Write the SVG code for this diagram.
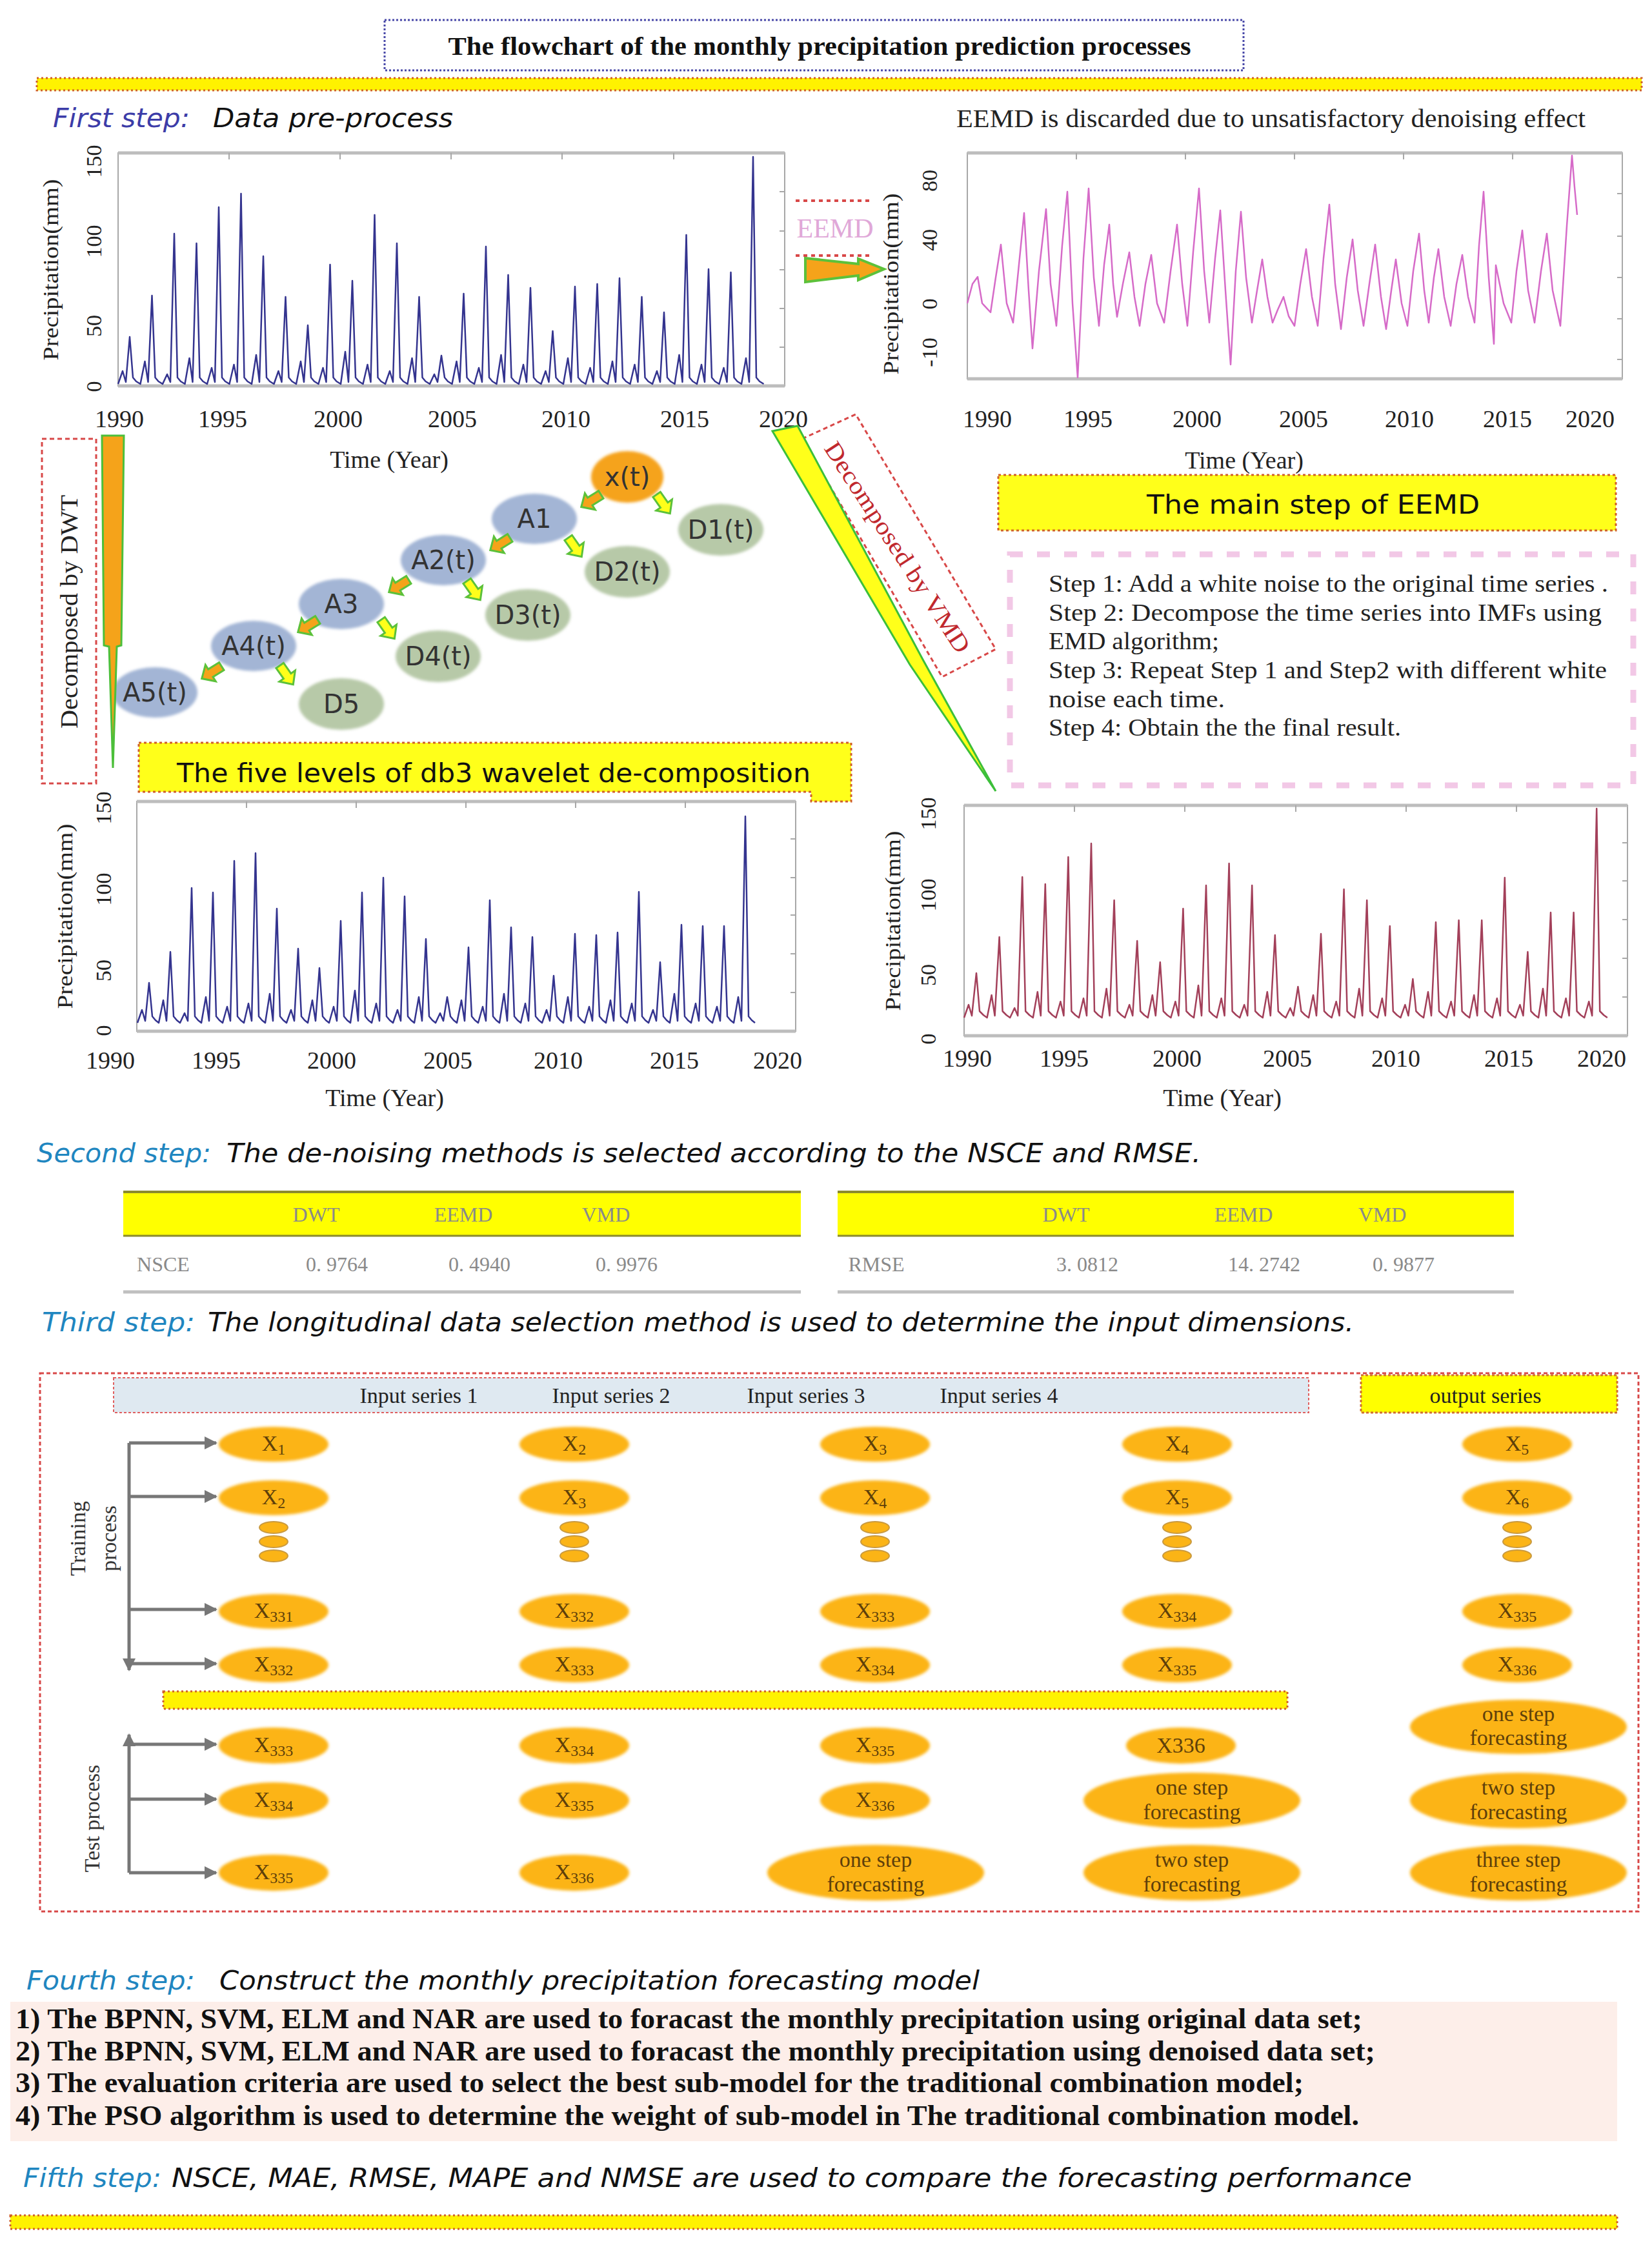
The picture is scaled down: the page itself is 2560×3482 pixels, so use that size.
<svg xmlns="http://www.w3.org/2000/svg" xmlns:xlink="http://www.w3.org/1999/xlink" width="2560" height="3482" viewBox="0 0 2560 3482">
<style>
.serif{font-family:"Liberation Serif","Times New Roman",serif}
.hand{font-family:"DejaVu Sans","Noto Sans",sans-serif}
.hd{font-family:"DejaVu Sans","Noto Sans",sans-serif;font-style:italic;font-size:40px;fill:#111}
.ax{font-family:"Liberation Serif",serif;font-size:38px;fill:#222}
.yt{font-family:"Liberation Serif",serif;font-size:34px;fill:#222}
.frame{fill:none;stroke:#a8a8a8;stroke-width:2}
.fedge{stroke:#bdbdbd;stroke-width:5}
.tick{stroke:#a8a8a8;stroke-width:2}
.band{fill:#fff200;stroke:#d0602a;stroke-width:3;stroke-dasharray:3 4}
.ybox{fill:#ffff1a;stroke:#d0602a;stroke-width:3;stroke-dasharray:4 4}
.rdash{fill:none;stroke:#d84848;stroke-width:3;stroke-dasharray:7 5}
.tbl{font-family:"Liberation Serif",serif;font-size:32px;fill:#8a8a8a}
.st{font-family:"Liberation Serif",serif;font-size:38px;fill:#222}
.lst{font-family:"Liberation Serif",serif;font-size:44px;font-weight:bold;fill:#111}
.ov{fill:#fcb414;filter:url(#soft)}
.ox{font-family:"Liberation Serif",serif;font-size:34px;fill:#5e400a;text-anchor:middle}
.sb{font-size:24px}
.fc{font-family:"Liberation Serif",serif;font-size:34px;fill:#5e400a;text-anchor:middle}
.an{fill:#a3b5d5;filter:url(#soft)}
.dn{fill:#b7c9a8;filter:url(#soft)}
.nl{font-family:"DejaVu Sans","Noto Sans",sans-serif;font-size:40px;fill:#333;text-anchor:middle}
.garr{stroke:#777;stroke-width:5;fill:none}
.ser{fill:none;stroke-width:2.5;stroke-linejoin:round}
</style>
<defs>
<filter id="soft" x="-10%" y="-20%" width="120%" height="140%"><feGaussianBlur stdDeviation="2"/></filter>
<path id="barrow" d="M-18,-7 L2,-7 L2,-15 L18,0 L2,15 L2,7 L-18,7 Z" stroke="#5cc13a" stroke-width="3"/>
<marker id="gtip" viewBox="0 0 10 10" refX="9" refY="5" markerWidth="4" markerHeight="4" orient="auto"><path d="M0,0 L10,5 L0,10 Z" fill="#777"/></marker>
</defs>

<!-- Title -->
<g id="title">
<rect x="596" y="31" width="1331" height="78" fill="#fff" stroke="#4848a8" stroke-width="3" stroke-dasharray="3 3"/>
<text class="serif" x="1270" y="85" text-anchor="middle" font-weight="bold" font-size="40" fill="#111" textLength="1151" lengthAdjust="spacingAndGlyphs">The flowchart of  the monthly precipitation prediction processes</text>
</g>
<rect class="band" x="57" y="121" width="2487" height="19"/>

<!-- First step -->
<text class="hd" x="82" y="197" style="fill:#3c3ca8" textLength="212" lengthAdjust="spacingAndGlyphs">First step:</text>
<text class="hd" x="330" y="197" textLength="372" lengthAdjust="spacingAndGlyphs">Data pre-process</text>
<text class="serif" x="1482" y="197" font-size="40" fill="#222" textLength="975" lengthAdjust="spacingAndGlyphs">EEMD is  discarded  due to unsatisfactory denoising effect</text>

<!-- Chart 1: original -->
<g id="chart-original">
<rect class="frame" x="183" y="237" width="1033" height="361"/>
<line class="fedge" x1="183" y1="237" x2="1216" y2="237"/><line class="fedge" x1="183" y1="598" x2="1216" y2="598"/>
<path class="tick" d="M355,237v10M527,237v10M699,237v10M871,237v10M1044,237v10M1216,297h-8M1216,358h-8M1216,418h-8M1216,478h-8M1216,538h-8"/>
<path class="ser" stroke="#34348f" d="M183,595 l7,-20 5,17 6,-70 5,63 5,6 6.5,4 7,-35 5,32 6,-134 5,127 5,6 6.5,4 7,-15 5,12 6,-230 5,223 5,6 6.5,4 7,-40 5,37 6,-215 5,208 5,6 6.5,4 7,-25 5,22 6,-271 5,264 5,6 6.5,4 7,-30 5,27 6,-292 5,285 5,6 6.5,4 7,-45 5,42 6,-195 5,188 5,6 6.5,4 7,-20 5,17 6,-132 5,125 5,6 6.5,4 7,-35 5,32 6,-88 5,81 5,6 6.5,4 7,-25 5,22 6,-182 5,175 5,6 6.5,4 7,-50 5,47 6,-157 5,150 5,6 6.5,4 7,-30 5,27 6,-259 5,252 5,6 6.5,4 7,-20 5,17 6,-215 5,208 5,6 6.5,4 7,-40 5,37 6,-132 5,125 5,6 6.5,4 7,-15 5,12 6,-41 5,34 5,6 6.5,4 7,-35 5,32 6,-137 5,130 5,6 6.5,4 7,-25 5,22 6,-210 5,203 5,6 6.5,4 7,-45 5,42 6,-166 5,159 5,6 6.5,4 7,-30 5,27 6,-146 5,139 5,6 6.5,4 7,-20 5,17 6,-79 5,72 5,6 6.5,4 7,-40 5,37 6,-148 5,141 5,6 6.5,4 7,-25 5,22 6,-152 5,145 5,6 6.5,4 7,-35 5,32 6,-161 5,154 5,6 6.5,4 7,-30 5,27 6,-132 5,125 5,6 6.5,4 7,-20 5,17 6,-108 5,101 5,6 6.5,4 7,-45 5,42 6,-228 5,221 5,6 6.5,4 7,-30 5,27 6,-175 5,168 5,6 6.5,4 7,-25 5,22 6,-170 5,163 5,6 6.5,4 7,-40 5,37 6,-349 5,342 5,6 6.5,4"/>
<text class="yt" transform="translate(90,418) rotate(-90)" text-anchor="middle" textLength="281" lengthAdjust="spacingAndGlyphs">Precipitation(mm)</text>
<g class="yt" text-anchor="middle">
<text transform="translate(157,250) rotate(-90)">150</text>
<text transform="translate(157,374) rotate(-90)">100</text>
<text transform="translate(157,505) rotate(-90)">50</text>
<text transform="translate(157,599) rotate(-90)">0</text>
</g>
<g class="ax" text-anchor="middle">
<text x="185" y="662">1990</text><text x="345" y="662">1995</text><text x="524" y="662">2000</text><text x="701" y="662">2005</text><text x="877" y="662">2010</text><text x="1061" y="662">2015</text><text x="1214" y="662">2020</text>
<text x="603" y="725">Time (Year)</text>
</g>
</g>

<!-- Chart 2: EEMD -->
<g id="chart-eemd">
<rect class="frame" x="1499" y="237" width="1015" height="350"/>
<line class="fedge" x1="1499" y1="237" x2="2514" y2="237"/><line class="fedge" x1="1499" y1="587" x2="2514" y2="587"/>
<path class="tick" d="M1668,237v10M1837,237v10M2006,237v10M2175,237v10M2344,237v10M2514,300h-8M2514,366h-8M2514,430h-8M2514,494h-8M2514,557h-8"/>
<path class="ser" stroke="#d66bc8" d="M1499,470 L1507,440 L1515,429 L1522,470 L1535,484 L1543,430 L1551,379 L1560,470 L1570,500 L1580,400 L1587,330 L1594,450 L1600,540 L1610,420 L1621,324 L1628,440 L1637,505 L1646,380 L1654,297 L1662,470 L1670,585 L1679,400 L1687,292 L1695,430 L1703,505 L1711,410 L1719,348 L1725,440 L1731,491 L1740,440 L1750,391 L1758,460 L1766,505 L1775,440 L1784,395 L1793,470 L1804,500 L1814,420 L1824,348 L1832,440 L1840,505 L1849,390 L1858,292 L1866,420 L1874,500 L1883,400 L1891,326 L1899,450 L1907,565 L1915,420 L1923,328 L1931,430 L1940,500 L1948,450 L1956,402 L1964,460 L1972,500 L1980,480 L1989,460 L1997,490 L2006,505 L2015,440 L2024,386 L2033,460 L2042,505 L2051,400 L2060,317 L2069,440 L2078,510 L2087,430 L2096,371 L2104,450 L2113,505 L2122,440 L2131,379 L2140,460 L2148,510 L2156,450 L2163,402 L2172,470 L2181,505 L2190,420 L2199,362 L2207,450 L2214,500 L2222,430 L2229,386 L2238,460 L2248,505 L2257,440 L2266,395 L2275,460 L2285,500 L2292,380 L2299,297 L2307,430 L2315,533 L2318,411 L2330,470 L2342,500 L2350,420 L2359,357 L2368,450 L2378,500 L2388,420 L2397,362 L2406,450 L2418,505 L2428,350 L2436,241 L2440,290 L2444,333"/>
<text class="yt" transform="translate(1392,440) rotate(-90)" text-anchor="middle" textLength="281" lengthAdjust="spacingAndGlyphs">Precipitation(mm)</text>
<g class="yt" text-anchor="middle">
<text transform="translate(1452,280) rotate(-90)">80</text>
<text transform="translate(1452,372) rotate(-90)">40</text>
<text transform="translate(1452,471) rotate(-90)">0</text>
<text transform="translate(1452,546) rotate(-90)">-10</text>
</g>
<g class="ax" text-anchor="middle">
<text x="1530" y="662">1990</text><text x="1686" y="662">1995</text><text x="1855" y="662">2000</text><text x="2020" y="662">2005</text><text x="2184" y="662">2010</text><text x="2336" y="662">2015</text><text x="2464" y="662">2020</text>
<text x="1928" y="726">Time (Year)</text>
</g>
</g>

<!-- EEMD label -->
<g id="eemd-label">
<line x1="1233" y1="311" x2="1353" y2="311" stroke="#d84848" stroke-width="4" stroke-dasharray="6 6"/>
<line x1="1233" y1="396" x2="1353" y2="396" stroke="#d84848" stroke-width="4" stroke-dasharray="6 6"/>
<text class="serif" x="1294" y="368" text-anchor="middle" font-size="42" fill="#e0a8d8">EEMD</text>
</g>

<!-- Chart 3: DWT -->
<g id="chart-dwt">
<rect class="frame" x="212" y="1242" width="1021" height="356"/>
<line class="fedge" x1="212" y1="1242" x2="1233" y2="1242"/><line class="fedge" x1="212" y1="1598" x2="1233" y2="1598"/>
<path class="tick" d="M382,1242v10M552,1242v10M722,1242v10M892,1242v10M1062,1242v10M1233,1300h-8M1233,1360h-8M1233,1418h-8M1233,1478h-8M1233,1538h-8"/>
<path class="ser" stroke="#34348f" d="M213,1585 l7,-20 5,17 6,-59 5,52 5,6 5,4 7,-35 5,32 6,-107 5,100 5,6 5,4 7,-15 5,12 6,-206 5,199 5,6 5,4 7,-40 5,37 6,-199 5,192 5,6 5,4 7,-25 5,22 6,-248 5,241 5,6 5,4 7,-30 5,27 6,-260 5,253 5,6 5,4 7,-45 5,42 6,-174 5,167 5,6 5,4 7,-20 5,17 6,-112 5,105 5,6 5,4 7,-35 5,32 6,-82 5,75 5,6 5,4 7,-25 5,22 6,-155 5,148 5,6 5,4 7,-50 5,47 6,-199 5,192 5,6 5,4 7,-30 5,27 6,-222 5,215 5,6 5,4 7,-20 5,17 6,-193 5,186 5,6 5,4 7,-40 5,37 6,-127 5,120 5,6 5,4 7,-15 5,12 6,-37 5,30 5,6 5,4 7,-35 5,32 6,-114 5,107 5,6 5,4 7,-25 5,22 6,-187 5,180 5,6 5,4 7,-45 5,42 6,-145 5,138 5,6 5,4 7,-30 5,27 6,-130 5,123 5,6 5,4 7,-20 5,17 6,-70 5,63 5,6 5,4 7,-40 5,37 6,-135 5,128 5,6 5,4 7,-25 5,22 6,-133 5,126 5,6 5,4 7,-35 5,32 6,-137 5,130 5,6 5,4 7,-30 5,27 6,-200 5,193 5,6 5,4 7,-20 5,17 6,-91 5,84 5,6 5,4 7,-45 5,42 6,-149 5,142 5,6 5,4 7,-30 5,27 6,-147 5,140 5,6 5,4 7,-25 5,22 6,-147 5,140 5,6 5,4 7,-40 5,37 6,-317 5,310 5,6 5,4"/>
<text class="yt" transform="translate(112,1420) rotate(-90)" text-anchor="middle" textLength="287" lengthAdjust="spacingAndGlyphs">Precipitation(mm)</text>
<g class="yt" text-anchor="middle">
<text transform="translate(172,1252) rotate(-90)">150</text>
<text transform="translate(172,1378) rotate(-90)">100</text>
<text transform="translate(172,1504) rotate(-90)">50</text>
<text transform="translate(172,1597) rotate(-90)">0</text>
</g>
<g class="ax" text-anchor="middle">
<text x="171" y="1656">1990</text><text x="335" y="1656">1995</text><text x="514" y="1656">2000</text><text x="694" y="1656">2005</text><text x="865" y="1656">2010</text><text x="1045" y="1656">2015</text><text x="1205" y="1656">2020</text>
<text x="596" y="1714">Time (Year)</text>
</g>
</g>

<!-- Chart 4: VMD -->
<g id="chart-vmd">
<rect class="frame" x="1494" y="1248" width="1028" height="357"/>
<line class="fedge" x1="1494" y1="1248" x2="2522" y2="1248"/><line class="fedge" x1="1494" y1="1605" x2="2522" y2="1605"/>
<path class="tick" d="M1665,1248v10M1836,1248v10M2008,1248v10M2179,1248v10M2350,1248v10M2522,1306h-8M2522,1365h-8M2522,1425h-8M2522,1485h-8M2522,1545h-8"/>
<path class="ser" stroke="#a3405a" d="M1494,1577 l7,-20 5,17 7,-66 5,59 6,6 5.6,4 7,-35 5,32 7,-122 5,115 6,6 5.6,4 7,-15 5,12 7,-215 5,208 6,6 5.6,4 7,-40 5,37 7,-204 5,197 6,6 5.6,4 7,-25 5,22 7,-246 5,239 6,6 5.6,4 7,-30 5,27 7,-267 5,260 6,6 5.6,4 7,-45 5,42 7,-179 5,172 6,6 5.6,4 7,-20 5,17 7,-116 5,109 6,6 5.6,4 7,-35 5,32 7,-83 5,76 6,6 5.6,4 7,-25 5,22 7,-166 5,159 6,6 5.6,4 7,-50 5,47 7,-202 5,195 6,6 5.6,4 7,-30 5,27 7,-236 5,229 6,6 5.6,4 7,-20 5,17 7,-202 5,195 6,6 5.6,4 7,-40 5,37 7,-125 5,118 6,6 5.6,4 7,-15 5,12 7,-45 5,38 6,6 5.6,4 7,-35 5,32 7,-127 5,120 6,6 5.6,4 7,-25 5,22 7,-196 5,189 6,6 5.6,4 7,-45 5,42 7,-179 5,172 6,6 5.6,4 7,-30 5,27 7,-139 5,132 6,6 5.6,4 7,-20 5,17 7,-57 5,50 6,6 5.6,4 7,-40 5,37 7,-145 5,138 6,6 5.6,4 7,-25 5,22 7,-148 5,141 6,6 5.6,4 7,-35 5,32 7,-148 5,141 6,6 5.6,4 7,-30 5,27 7,-214 5,207 6,6 5.6,4 7,-20 5,17 7,-99 5,92 6,6 5.6,4 7,-45 5,42 7,-160 5,153 6,6 5.6,4 7,-30 5,27 7,-160 5,153 6,6 5.6,4 7,-25 5,22 7,-321 5,314 6,6 5.6,4"/>
<text class="yt" transform="translate(1395,1427) rotate(-90)" text-anchor="middle" textLength="279" lengthAdjust="spacingAndGlyphs">Precipitation(mm)</text>
<g class="yt" text-anchor="middle">
<text transform="translate(1450,1261) rotate(-90)">150</text>
<text transform="translate(1450,1387) rotate(-90)">100</text>
<text transform="translate(1450,1511) rotate(-90)">50</text>
<text transform="translate(1450,1610) rotate(-90)">0</text>
</g>
<g class="ax" text-anchor="middle">
<text x="1499" y="1653">1990</text><text x="1649" y="1653">1995</text><text x="1824" y="1653">2000</text><text x="1995" y="1653">2005</text><text x="2163" y="1653">2010</text><text x="2338" y="1653">2015</text><text x="2482" y="1653">2020</text>
<text x="1894" y="1714">Time (Year)</text>
</g>
</g>

<!-- Decomposition labels -->
<g id="dwt-label">
<rect class="rdash" x="65" y="680" width="84" height="534"/>
<text class="serif" transform="translate(120,948) rotate(-90)" text-anchor="middle" font-size="38" fill="#222" textLength="362" lengthAdjust="spacingAndGlyphs">Decomposed by DWT</text>
</g>
<g id="vmd-label">
<polygon class="rdash" points="1243,680 1326,642 1543,1006 1460,1049"/>
<text class="serif" transform="translate(1380,855) rotate(57)" text-anchor="middle" font-size="38" fill="#c0282d" textLength="382" lengthAdjust="spacingAndGlyphs">Decomposed by VMD</text>
</g>

<!-- Yellow caption boxes -->
<g id="db3-caption">
<path class="ybox" d="M215,1151 H1319 V1242 H1257 V1227 H215 Z"/>
<text class="hand" x="274" y="1212" font-size="40" fill="#111" textLength="982" lengthAdjust="spacingAndGlyphs">The five levels of db3 wavelet de-composition</text>
</g>
<g id="eemd-caption">
<rect class="ybox" x="1547" y="736" width="957" height="86"/>
<text class="hand" x="1777" y="796" font-size="40" fill="#111" textLength="516" lengthAdjust="spacingAndGlyphs">The main step of EEMD</text>
</g>
<g id="eemd-steps">
<rect x="1565" y="859" width="966" height="358" fill="none" stroke="#f2c8e6" stroke-width="9" stroke-dasharray="20 22"/>
<text class="st" x="1625" y="917" textLength="867" lengthAdjust="spacingAndGlyphs">Step 1: Add a white noise to the original time series .</text>
<text class="st" x="1625" y="962" textLength="857" lengthAdjust="spacingAndGlyphs">Step 2: Decompose the time series  into IMFs using</text>
<text class="st" x="1625" y="1006" textLength="264" lengthAdjust="spacingAndGlyphs">EMD algorithm;</text>
<text class="st" x="1625" y="1051" textLength="865" lengthAdjust="spacingAndGlyphs">Step 3: Repeat Step 1 and Step2 with different white</text>
<text class="st" x="1625" y="1096" textLength="273" lengthAdjust="spacingAndGlyphs">noise  each time.</text>
<text class="st" x="1625" y="1140" textLength="546" lengthAdjust="spacingAndGlyphs">Step 4: Obtain the the final result.</text>
</g>

<!-- DWT tree nodes -->
<g id="node-xt"><ellipse cx="972" cy="739" rx="56" ry="40" fill="#f5a31a" filter="url(#soft)"/><text class="nl" x="972" y="753">x(t)</text></g>
<g id="node-A1"><ellipse class="an" cx="828" cy="804" rx="66" ry="39"/><text class="nl" x="828" y="818">A1</text></g>
<g id="node-D1"><ellipse class="dn" cx="1117" cy="821" rx="66" ry="40"/><text class="nl" x="1117" y="835">D1(t)</text></g>
<g id="node-A2"><ellipse class="an" cx="687" cy="868" rx="66" ry="39"/><text class="nl" x="687" y="882">A2(t)</text></g>
<g id="node-D2"><ellipse class="dn" cx="972" cy="886" rx="66" ry="40"/><text class="nl" x="972" y="900">D2(t)</text></g>
<g id="node-A3"><ellipse class="an" cx="529" cy="936" rx="66" ry="39"/><text class="nl" x="529" y="950">A3</text></g>
<g id="node-D3"><ellipse class="dn" cx="818" cy="953" rx="66" ry="40"/><text class="nl" x="818" y="967">D3(t)</text></g>
<g id="node-A4"><ellipse class="an" cx="393" cy="1001" rx="66" ry="39"/><text class="nl" x="393" y="1015">A4(t)</text></g>
<g id="node-D4"><ellipse class="dn" cx="679" cy="1017" rx="66" ry="40"/><text class="nl" x="679" y="1031">D4(t)</text></g>
<g id="node-A5"><ellipse class="an" cx="240" cy="1073" rx="66" ry="39"/><text class="nl" x="240" y="1087">A5(t)</text></g>
<g id="node-D5"><ellipse class="dn" cx="529" cy="1091" rx="66" ry="40"/><text class="nl" x="529" y="1105">D5</text></g>

<!-- Connectors / arrows -->
<g id="connectors">
<polygon points="158,675 192,675 188,1000 181,1002 175,1190 169,1002 161,1000" fill="#f5a31a" stroke="#4cbf3a" stroke-width="3"/>
<polygon points="1197,668 1236,660 1430,1022 1543,1226 1410,1030" fill="#ffff1a" stroke="#3cbf3a" stroke-width="3"/>
<polygon points="1248,400 1330,409 1330,401 1370,417 1330,434 1330,427 1248,437" fill="#f5a31a" stroke="#5cc13a" stroke-width="4"/>
<use xlink:href="#barrow" fill="#f5a31a" transform="translate(916,776) rotate(148)"/>
<use xlink:href="#barrow" fill="#f5a31a" transform="translate(775,843) rotate(148)"/>
<use xlink:href="#barrow" fill="#f5a31a" transform="translate(618,908) rotate(148)"/>
<use xlink:href="#barrow" fill="#f5a31a" transform="translate(477,970) rotate(148)"/>
<use xlink:href="#barrow" fill="#f5a31a" transform="translate(328,1042) rotate(148)"/>
<use xlink:href="#barrow" fill="#ffff1a" transform="translate(1028,781) rotate(55)"/>
<use xlink:href="#barrow" fill="#ffff1a" transform="translate(891,848) rotate(55)"/>
<use xlink:href="#barrow" fill="#ffff1a" transform="translate(734,915) rotate(55)"/>
<use xlink:href="#barrow" fill="#ffff1a" transform="translate(601,975) rotate(55)"/>
<use xlink:href="#barrow" fill="#ffff1a" transform="translate(444,1046) rotate(55)"/>
<line class="garr" x1="200" y1="2236" x2="200" y2="2588" marker-end="url(#gtip)"/>
<line class="garr" x1="200" y1="2236" x2="335" y2="2236" marker-end="url(#gtip)"/>
<line class="garr" x1="200" y1="2319" x2="335" y2="2319" marker-end="url(#gtip)"/>
<line class="garr" x1="200" y1="2494" x2="335" y2="2494" marker-end="url(#gtip)"/>
<line class="garr" x1="200" y1="2578" x2="335" y2="2578" marker-end="url(#gtip)"/>
<line class="garr" x1="200" y1="2902" x2="200" y2="2688" marker-end="url(#gtip)"/>
<line class="garr" x1="200" y1="2703" x2="335" y2="2703" marker-end="url(#gtip)"/>
<line class="garr" x1="200" y1="2788" x2="335" y2="2788" marker-end="url(#gtip)"/>
<line class="garr" x1="200" y1="2902" x2="335" y2="2902" marker-end="url(#gtip)"/>
</g>

<!-- Second step -->
<text class="hd" x="57" y="1801" style="fill:#1f86c0" textLength="270" lengthAdjust="spacingAndGlyphs">Second step:</text>
<text class="hd" x="351" y="1801" textLength="1510" lengthAdjust="spacingAndGlyphs">The de-noising methods is selected according to the NSCE and RMSE.</text>
<g id="table-nsce">
<rect x="191" y="1847" width="1050" height="68" fill="#ffff00"/>
<line x1="191" y1="1847" x2="1241" y2="1847" stroke="#8b8b2e" stroke-width="4"/>
<line x1="191" y1="1915" x2="1241" y2="1915" stroke="#8b8b2e" stroke-width="3"/>
<line x1="191" y1="2002" x2="1241" y2="2002" stroke="#c0c0c0" stroke-width="5"/>
<g class="tbl" text-anchor="middle"><text x="490" y="1893">DWT</text><text x="718" y="1893">EEMD</text><text x="939" y="1893">VMD</text>
<text x="253" y="1970">NSCE</text><text x="522" y="1970">0. 9764</text><text x="743" y="1970">0. 4940</text><text x="971" y="1970">0. 9976</text></g>
</g>
<g id="table-rmse">
<rect x="1298" y="1847" width="1048" height="68" fill="#ffff00"/>
<line x1="1298" y1="1847" x2="2346" y2="1847" stroke="#8b8b2e" stroke-width="4"/>
<line x1="1298" y1="1915" x2="2346" y2="1915" stroke="#8b8b2e" stroke-width="3"/>
<line x1="1298" y1="2002" x2="2346" y2="2002" stroke="#c0c0c0" stroke-width="5"/>
<g class="tbl" text-anchor="middle"><text x="1652" y="1893">DWT</text><text x="1927" y="1893">EEMD</text><text x="2142" y="1893">VMD</text>
<text x="1358" y="1970">RMSE</text><text x="1685" y="1970">3. 0812</text><text x="1959" y="1970">14. 2742</text><text x="2175" y="1970">0. 9877</text></g>
</g>

<!-- Third step -->
<text class="hd" x="65" y="2063" style="fill:#1f86c0" textLength="237" lengthAdjust="spacingAndGlyphs">Third step:</text>
<text class="hd" x="322" y="2063" textLength="1776" lengthAdjust="spacingAndGlyphs">The longitudinal data selection method is used to determine the input dimensions.</text>
<rect class="rdash" x="62" y="2128" width="2477" height="834" style="stroke-dasharray:6 4"/>
<g id="input-header">
<rect x="176" y="2135" width="1852" height="54" fill="#dfe9f1" stroke="#e06060" stroke-width="2" stroke-dasharray="4 3"/>
<g class="serif" font-size="34" fill="#222" text-anchor="middle"><text x="649" y="2174">Input series 1</text><text x="947" y="2174">Input series 2</text><text x="1249" y="2174">Input series 3</text><text x="1548" y="2174">Input series 4</text></g>
</g>
<g id="output-header">
<rect x="2109" y="2131" width="397" height="58" fill="#ffff00" stroke="#d07030" stroke-width="3" stroke-dasharray="4 3"/>
<text class="serif" x="2302" y="2174" font-size="34" fill="#222" text-anchor="middle">output series</text>
</g>
<text class="serif" transform="translate(132,2384) rotate(-90)" text-anchor="middle" font-size="34" fill="#333">Training</text>
<text class="serif" transform="translate(180,2384) rotate(-90)" text-anchor="middle" font-size="34" fill="#333">process</text>
<text class="serif" transform="translate(154,2818) rotate(-90)" text-anchor="middle" font-size="34" fill="#333">Test process</text>
<rect class="band" x="253" y="2621" width="1742" height="27"/>

<!-- training row 1 -->
<g id="t1c1"><ellipse class="ov" cx="424" cy="2238" rx="85" ry="27"/><text class="ox" x="424" y="2248">X<tspan class="sb" dy="6">1</tspan></text></g>
<g id="t1c2"><ellipse class="ov" cx="890" cy="2238" rx="85" ry="27"/><text class="ox" x="890" y="2248">X<tspan class="sb" dy="6">2</tspan></text></g>
<g id="t1c3"><ellipse class="ov" cx="1356" cy="2238" rx="85" ry="27"/><text class="ox" x="1356" y="2248">X<tspan class="sb" dy="6">3</tspan></text></g>
<g id="t1c4"><ellipse class="ov" cx="1824" cy="2238" rx="85" ry="27"/><text class="ox" x="1824" y="2248">X<tspan class="sb" dy="6">4</tspan></text></g>
<g id="t1c5"><ellipse class="ov" cx="2351" cy="2238" rx="85" ry="27"/><text class="ox" x="2351" y="2248">X<tspan class="sb" dy="6">5</tspan></text></g>
<!-- training row 2 -->
<g id="t2c1"><ellipse class="ov" cx="424" cy="2321" rx="85" ry="27"/><text class="ox" x="424" y="2331">X<tspan class="sb" dy="6">2</tspan></text></g>
<g id="t2c2"><ellipse class="ov" cx="890" cy="2321" rx="85" ry="27"/><text class="ox" x="890" y="2331">X<tspan class="sb" dy="6">3</tspan></text></g>
<g id="t2c3"><ellipse class="ov" cx="1356" cy="2321" rx="85" ry="27"/><text class="ox" x="1356" y="2331">X<tspan class="sb" dy="6">4</tspan></text></g>
<g id="t2c4"><ellipse class="ov" cx="1824" cy="2321" rx="85" ry="27"/><text class="ox" x="1824" y="2331">X<tspan class="sb" dy="6">5</tspan></text></g>
<g id="t2c5"><ellipse class="ov" cx="2351" cy="2321" rx="85" ry="27"/><text class="ox" x="2351" y="2331">X<tspan class="sb" dy="6">6</tspan></text></g>
<!-- dots -->
<g id="dots" fill="#fbb416" stroke="#c99a40" stroke-width="2">
<ellipse cx="424" cy="2367" rx="22" ry="9"/><ellipse cx="424" cy="2389" rx="22" ry="9"/><ellipse cx="424" cy="2411" rx="22" ry="9"/>
<ellipse cx="890" cy="2367" rx="22" ry="9"/><ellipse cx="890" cy="2389" rx="22" ry="9"/><ellipse cx="890" cy="2411" rx="22" ry="9"/>
<ellipse cx="1356" cy="2367" rx="22" ry="9"/><ellipse cx="1356" cy="2389" rx="22" ry="9"/><ellipse cx="1356" cy="2411" rx="22" ry="9"/>
<ellipse cx="1824" cy="2367" rx="22" ry="9"/><ellipse cx="1824" cy="2389" rx="22" ry="9"/><ellipse cx="1824" cy="2411" rx="22" ry="9"/>
<ellipse cx="2351" cy="2367" rx="22" ry="9"/><ellipse cx="2351" cy="2389" rx="22" ry="9"/><ellipse cx="2351" cy="2411" rx="22" ry="9"/>
</g>
<!-- training row 3 -->
<g id="t3c1"><ellipse class="ov" cx="424" cy="2497" rx="85" ry="27"/><text class="ox" x="424" y="2507">X<tspan class="sb" dy="6">331</tspan></text></g>
<g id="t3c2"><ellipse class="ov" cx="890" cy="2497" rx="85" ry="27"/><text class="ox" x="890" y="2507">X<tspan class="sb" dy="6">332</tspan></text></g>
<g id="t3c3"><ellipse class="ov" cx="1356" cy="2497" rx="85" ry="27"/><text class="ox" x="1356" y="2507">X<tspan class="sb" dy="6">333</tspan></text></g>
<g id="t3c4"><ellipse class="ov" cx="1824" cy="2497" rx="85" ry="27"/><text class="ox" x="1824" y="2507">X<tspan class="sb" dy="6">334</tspan></text></g>
<g id="t3c5"><ellipse class="ov" cx="2351" cy="2497" rx="85" ry="27"/><text class="ox" x="2351" y="2507">X<tspan class="sb" dy="6">335</tspan></text></g>
<!-- training row 4 -->
<g id="t4c1"><ellipse class="ov" cx="424" cy="2580" rx="85" ry="27"/><text class="ox" x="424" y="2590">X<tspan class="sb" dy="6">332</tspan></text></g>
<g id="t4c2"><ellipse class="ov" cx="890" cy="2580" rx="85" ry="27"/><text class="ox" x="890" y="2590">X<tspan class="sb" dy="6">333</tspan></text></g>
<g id="t4c3"><ellipse class="ov" cx="1356" cy="2580" rx="85" ry="27"/><text class="ox" x="1356" y="2590">X<tspan class="sb" dy="6">334</tspan></text></g>
<g id="t4c4"><ellipse class="ov" cx="1824" cy="2580" rx="85" ry="27"/><text class="ox" x="1824" y="2590">X<tspan class="sb" dy="6">335</tspan></text></g>
<g id="t4c5"><ellipse class="ov" cx="2351" cy="2580" rx="85" ry="27"/><text class="ox" x="2351" y="2590">X<tspan class="sb" dy="6">336</tspan></text></g>
<!-- test row 1 -->
<g id="s1c1"><ellipse class="ov" cx="424" cy="2705" rx="85" ry="28"/><text class="ox" x="424" y="2715">X<tspan class="sb" dy="6">333</tspan></text></g>
<g id="s1c2"><ellipse class="ov" cx="890" cy="2705" rx="85" ry="28"/><text class="ox" x="890" y="2715">X<tspan class="sb" dy="6">334</tspan></text></g>
<g id="s1c3"><ellipse class="ov" cx="1356" cy="2705" rx="85" ry="28"/><text class="ox" x="1356" y="2715">X<tspan class="sb" dy="6">335</tspan></text></g>
<g id="s1c4"><ellipse class="ov" cx="1830" cy="2705" rx="85" ry="28"/><text class="ox" x="1830" y="2716" font-size="30">X336</text></g>
<g id="s1c5"><ellipse class="ov" cx="2353" cy="2676" rx="168" ry="42"/><text class="fc" x="2353" y="2667">one step</text><text class="fc" x="2353" y="2704">forecasting</text></g>
<!-- test row 2 -->
<g id="s2c1"><ellipse class="ov" cx="424" cy="2790" rx="85" ry="28"/><text class="ox" x="424" y="2800">X<tspan class="sb" dy="6">334</tspan></text></g>
<g id="s2c2"><ellipse class="ov" cx="890" cy="2790" rx="85" ry="28"/><text class="ox" x="890" y="2800">X<tspan class="sb" dy="6">335</tspan></text></g>
<g id="s2c3"><ellipse class="ov" cx="1356" cy="2790" rx="85" ry="28"/><text class="ox" x="1356" y="2800">X<tspan class="sb" dy="6">336</tspan></text></g>
<g id="s2c4"><ellipse class="ov" cx="1847" cy="2790" rx="168" ry="43"/><text class="fc" x="1847" y="2781">one step</text><text class="fc" x="1847" y="2819">forecasting</text></g>
<g id="s2c5"><ellipse class="ov" cx="2353" cy="2790" rx="168" ry="43"/><text class="fc" x="2353" y="2781">two step</text><text class="fc" x="2353" y="2819">forecasting</text></g>
<!-- test row 3 -->
<g id="s3c1"><ellipse class="ov" cx="424" cy="2902" rx="85" ry="28"/><text class="ox" x="424" y="2912">X<tspan class="sb" dy="6">335</tspan></text></g>
<g id="s3c2"><ellipse class="ov" cx="890" cy="2902" rx="85" ry="28"/><text class="ox" x="890" y="2912">X<tspan class="sb" dy="6">336</tspan></text></g>
<g id="s3c3"><ellipse class="ov" cx="1357" cy="2902" rx="168" ry="43"/><text class="fc" x="1357" y="2893">one step</text><text class="fc" x="1357" y="2931">forecasting</text></g>
<g id="s3c4"><ellipse class="ov" cx="1847" cy="2902" rx="168" ry="43"/><text class="fc" x="1847" y="2893">two step</text><text class="fc" x="1847" y="2931">forecasting</text></g>
<g id="s3c5"><ellipse class="ov" cx="2353" cy="2902" rx="168" ry="43"/><text class="fc" x="2353" y="2893">three step</text><text class="fc" x="2353" y="2931">forecasting</text></g>

<!-- Fourth step -->
<text class="hd" x="41" y="3083" style="fill:#1f86c0" textLength="261" lengthAdjust="spacingAndGlyphs">Fourth step:</text>
<text class="hd" x="340" y="3083" textLength="1178" lengthAdjust="spacingAndGlyphs">Construct the monthly precipitation forecasting model</text>
<g id="fourth-list">
<rect x="16" y="3102" width="2490" height="216" fill="#fdeee9"/>
<text class="lst" x="24" y="3143" textLength="2087" lengthAdjust="spacingAndGlyphs">1)  The BPNN, SVM, ELM and NAR are used to foracast the monthly precipitation using original data set;</text>
<text class="lst" x="24" y="3193" textLength="2107" lengthAdjust="spacingAndGlyphs">2)  The BPNN, SVM, ELM and NAR are used to foracast the monthly precipitation using denoised data set;</text>
<text class="lst" x="24" y="3242" textLength="1996" lengthAdjust="spacingAndGlyphs">3)  The evaluation criteria are used to select the best sub-model for the traditional combination model;</text>
<text class="lst" x="24" y="3293" textLength="2082" lengthAdjust="spacingAndGlyphs">4)  The PSO algorithm is used to determine the weight of sub-model in  The traditional combination model.</text>
</g>

<!-- Fifth step -->
<text class="hd" x="36" y="3389" style="fill:#1f86c0" textLength="214" lengthAdjust="spacingAndGlyphs">Fifth step:</text>
<text class="hd" x="266" y="3389" textLength="1922" lengthAdjust="spacingAndGlyphs">NSCE, MAE, RMSE, MAPE and NMSE are used to compare the forecasting performance</text>
<rect class="band" x="16" y="3433" width="2490" height="21"/>
</svg>
